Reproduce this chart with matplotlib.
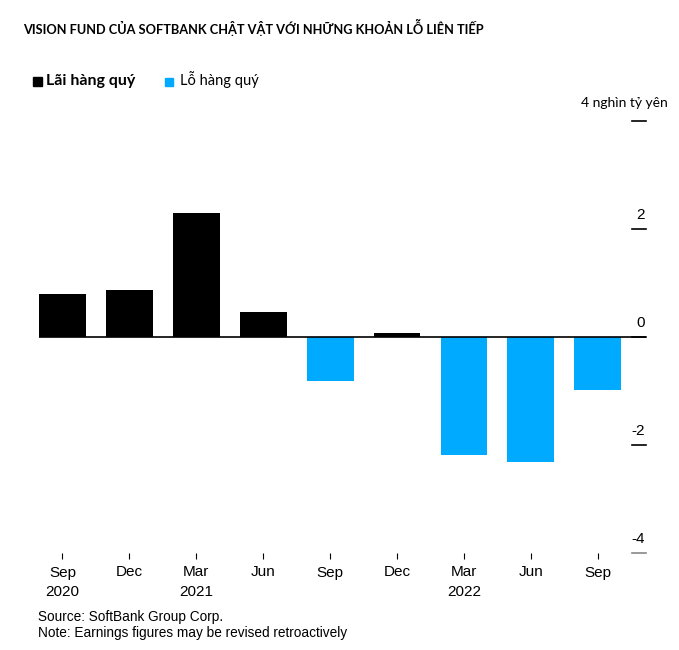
import numpy as np
import matplotlib.pyplot as plt
from matplotlib import transforms

# quarterly results, nghìn tỷ yên
quarters = ['Sep', 'Dec', 'Mar', 'Jun', 'Sep', 'Dec', 'Mar', 'Jun', 'Sep']
years = ['2020', '', '2021', '', '', '', '2022', '', '']
values = [0.80, 0.87, 2.30, 0.46, -0.82, 0.07, -2.19, -2.31, -0.99]
yticks = [4, 2, 0, -2, -4]

BLACK = '#000000'
BLUE = '#00AAFF'
narrow = ['Liberation Sans Narrow', 'Liberation Sans', 'DejaVu Sans']
calib = ['Lato', 'DejaVu Sans']

fig = plt.figure(figsize=(6.79, 6.5), dpi=100)
ax = fig.add_axes([39 / 679, 1 - 553 / 650, 607 / 679, 432 / 650])

x = np.arange(len(values))
colors = [BLACK if v >= 0 else BLUE for v in values]
ax.bar(x, values, width=0.7, color=colors, zorder=2)
ax.axhline(0, color='black', lw=1.2, zorder=3)

ax.set_xlim(-0.35, 8.72)
ax.set_ylim(-4, 4)
for s in ax.spines.values():
    s.set_visible(False)
ax.set_yticks([])
ax.set_xticks(x)
ax.set_xticklabels([])
ax.tick_params(axis='x', length=4, width=0.8, color='black', pad=0)

# y tick dashes + labels on the right
trans = transforms.blended_transform_factory(ax.transAxes, ax.transData)
for t in yticks:
    c = '#888888' if t == -4 else 'black'
    ax.plot([0.977, 1.0], [t, t], transform=trans, color=c, lw=1.2, clip_on=False)
    if t != 4:
        ax.annotate(str(t), xy=(1.0, t), xycoords=trans, xytext=(-1, 5),
                    textcoords='offset points', ha='right', va='bottom',
                    fontsize=11, family=narrow)

# x labels
for i, (q, yr) in enumerate(zip(quarters, years)):
    ax.annotate(q, xy=(i, -4), xycoords='data', xytext=(0, -9),
                textcoords='offset points', ha='center', va='top',
                fontsize=11, family=narrow, annotation_clip=False)
    if yr:
        ax.annotate(yr, xy=(i, -4), xycoords='data', xytext=(0, -23),
                    textcoords='offset points', ha='center', va='top',
                    fontsize=11, family=narrow, annotation_clip=False)

fig.text(23 / 679, 1 - 27 / 650, 'VISION FUND CỦA SOFTBANK CHẬT VẬT VỚI NHỮNG KHOẢN LỖ LIÊN TIẾP',
         fontsize=9.2, fontweight='bold', family=calib, va='center', ha='left')

# legend
fig.patches.append(plt.Rectangle((33 / 679, 1 - 86 / 650), 9 / 679, 9 / 650,
                                 transform=fig.transFigure, color=BLACK))
fig.text(46 / 679, 1 - 81 / 650, 'Lãi hàng quý', fontsize=11.5, fontweight='bold',
         family=calib, va='center', ha='left')
fig.patches.append(plt.Rectangle((165 / 679, 1 - 86 / 650), 8 / 679, 8 / 650,
                                 transform=fig.transFigure, color=BLUE))
fig.text(180 / 679, 1 - 80 / 650, 'Lỗ hàng quý', fontsize=10.5,
         family=calib, va='center', ha='left')

fig.text(668 / 679, 1 - 103 / 650, '4 nghìn tỷ yên', fontsize=10,
         family=calib, va='center', ha='right')

fig.text(38 / 679, 1 - 617 / 650, 'Source: SoftBank Group Corp.', fontsize=9.8,
         family=narrow, va='center', ha='left')
fig.text(38 / 679, 1 - 633 / 650, 'Note: Earnings figures may be revised retroactively',
         fontsize=9.8, family=narrow, va='center', ha='left')

fig.savefig('out.png', dpi=100)
